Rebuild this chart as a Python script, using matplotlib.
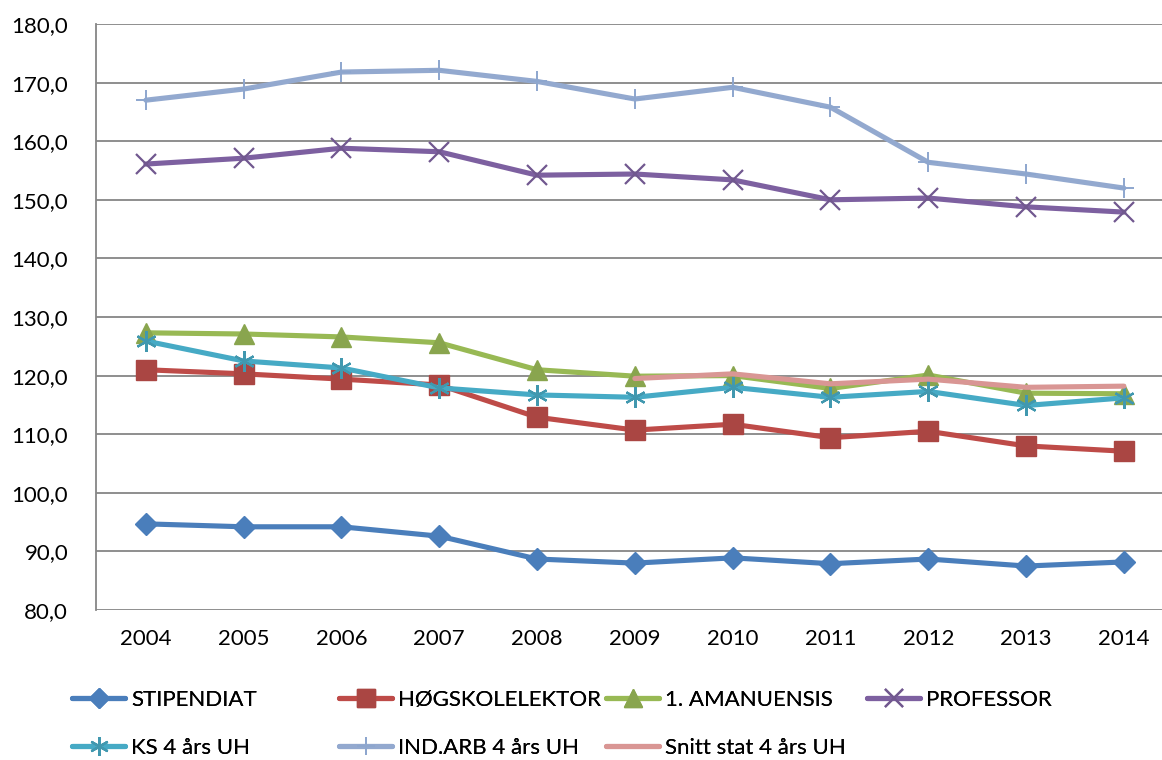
"""Lønnsutvikling 2004-2014, linjediagram"""
import matplotlib
matplotlib.use("Agg")
import matplotlib.pyplot as plt
from matplotlib.ticker import FuncFormatter

plt.rcParams["font.family"] = ["Lato", "DejaVu Sans"]

years = ["2004", "2005", "2006", "2007", "2008", "2009",
         "2010", "2011", "2012", "2013", "2014"]

stipendiat = [94.7, 94.2, 94.2, 92.6, 88.7, 88.0, 88.9, 87.9, 88.7, 87.5, 88.2]
hogskolelektor = [121.0, 120.3, 119.4, 118.4, 112.9, 110.7, 111.7, 109.4, 110.5, 108.0, 107.1]
amanuensis = [127.3, 127.1, 126.6, 125.6, 121.0, 119.9, 120.0, 117.8, 120.1, 117.0, 116.9]
professor = [156.1, 157.1, 158.8, 158.2, 154.2, 154.4, 153.4, 150.0, 150.3, 148.8, 147.9]
ks_uh = [125.9, 122.5, 121.3, 117.9, 116.7, 116.3, 118.0, 116.3, 117.3, 114.9, 116.2]
indarb_uh = [167.0, 168.9, 171.8, 172.1, 170.2, 167.2, 169.2, 165.8, 156.4, 154.4, 152.0]
snitt_years = ["2009", "2010", "2011", "2012", "2013", "2014"]
snitt_uh = [119.5, 120.3, 118.6, 119.4, 118.0, 118.2]

fig = plt.figure(figsize=(11.62, 7.6), dpi=100)
ax = fig.add_axes([96 / 1162, 150 / 760, 1066 / 1162, 586 / 760])

x = list(range(len(years)))
xs = [years.index(y) for y in snitt_years]

lw = 3.7
series = [
    (x, stipendiat, "STIPENDIAT", "#4A7EBB", "#4A7EBB", "D", 11, 1),
    (x, hogskolelektor, "HØGSKOLELEKTOR", "#BE4B48", "#AA4643", "s", 14, 1),
    (x, amanuensis, "1. AMANUENSIS", "#98B954", "#89A54E", "^", 14, 1),
    (x, professor, "PROFESSOR", "#7D60A0", "#71588F", "x", 14, 1.6),
    (x, ks_uh, "KS 4 års UH", "#46AAC5", "#4198AF", (6, 2, 0), 15, 1.6),
    (x, indarb_uh, "IND.ARB 4 års UH", "#93A9CF", "#8DA6CE", "+", 15, 1.4),
    (xs, snitt_uh, "Snitt stat 4 års UH", "#D99694", "#D99694", None, 0, 1),
]

handles = []
for xv, yv, label, col, mcol, mk, ms, mew in series:
    h, = ax.plot(xv, yv, color=col, lw=lw, marker=mk, markersize=ms,
                 markerfacecolor=mcol, markeredgecolor=mcol,
                 markeredgewidth=mew, label=label, solid_capstyle="round",
                 solid_joinstyle="round")
    handles.append(h)

ax.set_xlim(-0.51, 10.39)
ax.set_ylim(80, 180)
ax.set_yticks(range(80, 181, 10))
ax.yaxis.set_major_formatter(FuncFormatter(lambda v, p: f"{v:.1f}".replace(".", ",")))
ax.set_xticks(x)
ax.set_xticklabels(years)
ax.tick_params(axis="both", length=0, labelsize=16)
ax.tick_params(axis="y", pad=20)
ax.tick_params(axis="x", pad=14)
ax.grid(axis="y", color="#868686", lw=1.3)
ax.set_axisbelow(True)
for side in ["top", "right", "bottom"]:
    ax.spines[side].set_visible(False)
ax.spines["left"].set_color("#868686")
ax.spines["left"].set_linewidth(1.3)

# legend in Excel-style fixed columns
col_x = [72, 339, 606, 867]
row_y = [700, 748]
for i, h in enumerate(handles):
    c, r = i % 4, i // 4
    leg = fig.legend([h], [h.get_label()], loc="center left",
                     bbox_to_anchor=(col_x[c] / 1162, 1 - row_y[r] / 760),
                     frameon=False, fontsize=16, handlelength=2.4,
                     handletextpad=0.25, borderaxespad=0, borderpad=0,
                     markerscale=0.9)
    fig.add_artist(leg)

fig.savefig("out.png", dpi=100)
